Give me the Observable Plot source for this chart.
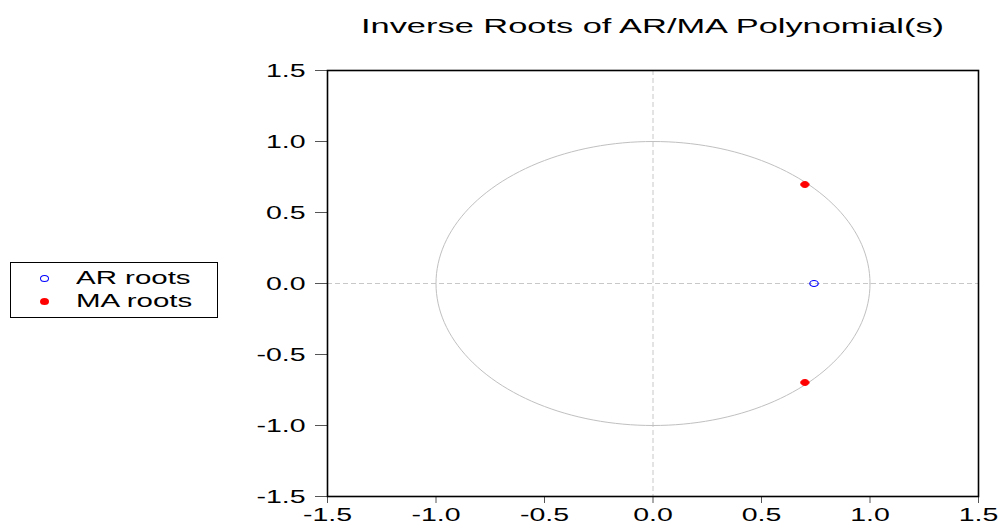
<!DOCTYPE html>
<html>
<head>
<meta charset="utf-8">
<script src="https://cdn.jsdelivr.net/npm/d3@7"></script>
<script src="https://cdn.jsdelivr.net/npm/@observablehq/plot@0.6"></script>
<style>
  html, body { margin: 0; padding: 0; background: #fff; }
  body { width: 1000px; height: 531px; position: relative; overflow: hidden; font-family: "Liberation Sans", Arial, sans-serif; }
  #title { position: absolute; left: 327px; width: 651px; top: 14px; text-align: center; font-size: 20px; line-height: 24px; color: #000; }
  #title span { display: inline-block; transform: scaleX(1.72); transform-origin: center; white-space: nowrap; }
  #legend { position: absolute; left: 10px; top: 262px; width: 208px; height: 56px; border: 1px solid #000; box-sizing: border-box; font-size: 19px; }
  #legend .row { position: absolute; left: 0; height: 22px; line-height: 22px; }
  #legend .sw { position: absolute; left: 29px; top: 8px; width: 9px; height: 7px; border-radius: 50%; box-sizing: border-box; }
  #legend .lab { position: absolute; left: 65px; white-space: nowrap; transform: scaleX(1.55); transform-origin: left center; }
  #chart { position: absolute; left: 0; top: 0; }
</style>
</head>
<body>
<div id="chart"></div>
<div id="title"><span>Inverse Roots of AR/MA Polynomial(s)</span></div>
<div id="legend"></div>
<script>
// Data
const seriesNames = ["AR roots", "MA roots"];
const arRe = [0.742];
const arIm = [0.0];
const maRe = [0.70, 0.70];
const maIm = [0.697, -0.697];
const ticks = [-1.5, -1.0, -0.5, 0.0, 0.5, 1.0, 1.5];

const arRoots = arRe.map((re, i) => ({re, im: arIm[i]}));
const maRoots = maRe.map((re, i) => ({re, im: maIm[i]}));

// Unit circle reference
const circle = d3.range(0, 361, 2).map(a => ({re: Math.cos(a * Math.PI / 180), im: Math.sin(a * Math.PI / 180)}));

// Ellipse symbol (markers are slightly wider than tall)
const ellipse = {
  draw(ctx, size) {
    const rx = 4.2, ry = 3.0, k = 0.5523;
    ctx.moveTo(rx, 0);
    ctx.bezierCurveTo(rx, ry * k, rx * k, ry, 0, ry);
    ctx.bezierCurveTo(-rx * k, ry, -rx, ry * k, -rx, 0);
    ctx.bezierCurveTo(-rx, -ry * k, -rx * k, -ry, 0, -ry);
    ctx.bezierCurveTo(rx * k, -ry, rx, -ry * k, rx, 0);
    ctx.closePath();
  }
};

const fmt = d => d.toFixed(1);

const plot = Plot.plot({
  width: 1000,
  height: 531,
  marginLeft: 327,
  marginRight: 22,
  marginTop: 70,
  marginBottom: 35,
  style: {fontFamily: "'Liberation Sans', Arial, sans-serif", fontSize: "19px", color: "#000", background: "#fff", overflow: "visible"},
  x: {domain: [-1.5, 1.5], label: null},
  y: {domain: [-1.5, 1.5], label: null},
  marks: [
    Plot.ruleX([0], {stroke: "#c8c8c8", strokeDasharray: "5,3", strokeWidth: 1}),
    Plot.ruleY([0], {stroke: "#c8c8c8", strokeDasharray: "5,3", strokeWidth: 1}),
    Plot.line(circle, {x: "re", y: "im", stroke: "#c0c0c0", strokeWidth: 1}),
    Plot.dot(arRoots, {x: "re", y: "im", symbol: ellipse, stroke: "#0000ff", fill: "none", strokeWidth: 1.2}),
    Plot.dot(maRoots, {x: "re", y: "im", symbol: ellipse, fill: "#ff0000", stroke: "#ff0000", strokeWidth: 1}),
    Plot.axisX({ticks: ticks, tickFormat: fmt, tickSize: 7, tickPadding: 4, stroke: "#555", label: null, fill: "#000"}),
    Plot.axisY({ticks: ticks, tickFormat: fmt, tickSize: 12, tickPadding: 10, stroke: "#555", label: null, fill: "#000"}),
    Plot.frame({stroke: "#000", strokeWidth: 1.6})
  ]
});
document.getElementById("chart").appendChild(plot);

// Stretch tick labels horizontally like the reference's wide glyphs
plot.querySelectorAll("text").forEach(t => {
  const len = t.getComputedTextLength();
  if (len > 0) {
    t.setAttribute("textLength", (len * 1.5).toFixed(1));
    t.setAttribute("lengthAdjust", "spacingAndGlyphs");
  }
});

// Legend
const legend = document.getElementById("legend");
const styles = [
  {top: 4, css: "border:1.3px solid #0000ff;background:none;"},
  {top: 27, css: "background:#ff0000;"}
];
seriesNames.forEach((name, i) => {
  const row = document.createElement("div");
  row.className = "row";
  row.style.top = styles[i].top + "px";
  row.innerHTML = `<span class="sw" style="${styles[i].css}"></span><span class="lab">${name}</span>`;
  legend.appendChild(row);
});
</script>
</body>
</html>
